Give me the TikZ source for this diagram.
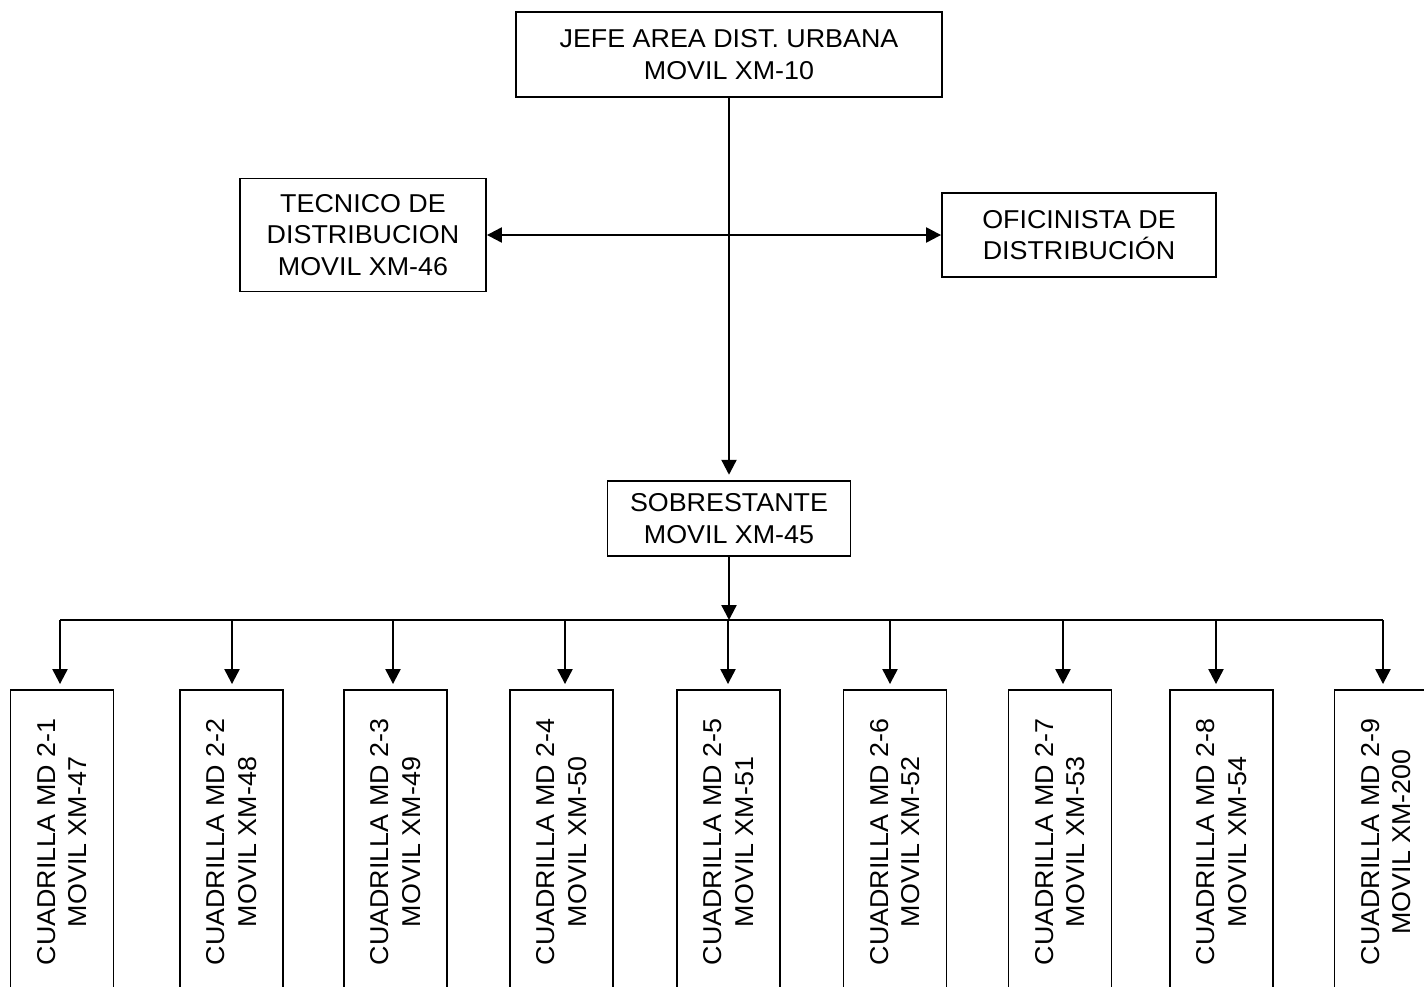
\documentclass[tikz,border=0pt]{standalone}
\usepackage{fontspec}
\setmainfont{Liberation Sans}[FakeStretch=1.04]
\usetikzlibrary{arrows.meta}

\begin{document}
\begin{tikzpicture}[x=0.02cm, y=-0.02cm]
        \tikzset{box/.style={draw, line width=1.1pt, align=center, inner sep=0pt,
                font=\fontsize{14.7pt}{18pt}\selectfont},
            link/.style={-{Triangle[length=0.3cm, width=0.3cm]}, line width=1.3pt},
            crew/.style={box, rotate=90, minimum width=6.08cm, minimum height=2.06cm}}
        \clip (0,0) rectangle (1424,987);
        \node[box, minimum width=8.52cm, minimum height=1.7cm] (jefe) at (729,54.5) {JEFE AREA DIST. URBANA\\MOVIL XM-10};
        \node[box, minimum width=4.92cm, minimum height=2.26cm] (tecnico) at (363,235) {TECNICO DE\\DISTRIBUCION\\MOVIL XM-46};
        \node[box, minimum width=5.48cm, minimum height=1.68cm] (oficina) at (1079,235) {OFICINISTA DE\\DISTRIBUCIÓN};
        \node[box, minimum width=4.86cm, minimum height=1.5cm] (sobre) at (729,518.5) {SOBRESTANTE\\MOVIL XM-45};
        \coordinate (bl) at (60,620);
        \coordinate (br) at (1383,620);
        \coordinate (bus) at (729,620);
        \draw[link, shorten >=3pt] (jefe.south) -- (sobre.north);
        \draw[link, {Triangle[length=0.3cm, width=0.3cm]}-{Triangle[length=0.3cm, width=0.3cm]}] (tecnico.east) -- (oficina.west);
        \draw[link] (sobre.south) -- (bus);
        \draw[line width=1.3pt] (bl) -- (br);
        \foreach \i/\bx/\ax/\xm in {1/62/60/47, 2/231.5/232/48, 3/395.5/393/49, 4/561.5/565/50,
                5/728.5/728/51, 6/895/890/52, 7/1060/1063/53, 8/1221.5/1216/54, 9/1386/1383/200} {
            \node[crew] (c\i) at (\bx,842) {CUADRILLA MD 2-\i\\MOVIL XM-\xm};
            \coordinate (t\i) at (\ax,620);
            \draw[link, shorten >=0.1cm] (t\i) -- (t\i |- c\i.east);
        }
    \end{tikzpicture}
\end{document}
